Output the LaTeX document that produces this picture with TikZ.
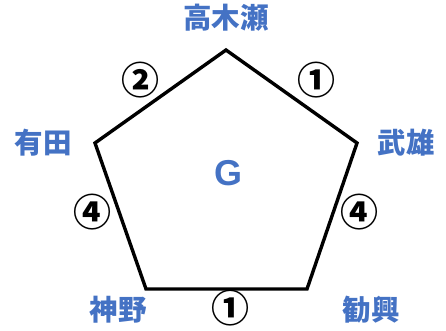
\documentclass[tikz,border=0pt]{standalone}
\usepackage{fontspec}
\setmainfont{Liberation Sans}
\newfontfamily\cjk{Noto Sans CJK JP}
\definecolor{nblue}{HTML}{4472C4}
\begin{document}
\begin{tikzpicture}[x=1pt,y=-1pt,
  place/.style={text=nblue,font=\cjk\bfseries\fontsize{28.5}{28.5}\selectfont,inner sep=0pt},
  num/.style={font=\cjk\bfseries\fontsize{38}{38}\selectfont,inner sep=0pt},
  edge/.style={draw=black,line width=3.4pt,line join=miter}]
\useasboundingbox (0,0) rectangle (446,330);
\coordinate (t) at (226,50);
\coordinate (r) at (357,143);
\coordinate (br) at (307,289);
\coordinate (bl) at (146,289);
\coordinate (l) at (95,143);
\draw[edge] (t) -- (r) -- (br) -- (bl) -- (l) -- cycle;
\node[place] (n1) at (226,18) {高木瀬};
\node[place] (n2) at (406,143) {武雄};
\node[place] (n3) at (371,310) {勧興};
\node[place] (n4) at (118,310) {神野};
\node[place] (n5) at (43,143) {有田};
\node[text=nblue,font=\bfseries\fontsize{36}{36}\selectfont,inner sep=0pt] (g) at (228,173) {G};
\node[num] (e1) at (140,80) {②};
\node[num] (e2) at (316,80) {①};
\node[num] (e3) at (359,212) {④};
\node[num] (e4) at (230,308) {①};
\node[num] (e5) at (92,212) {④};
\end{tikzpicture}
\end{document}
